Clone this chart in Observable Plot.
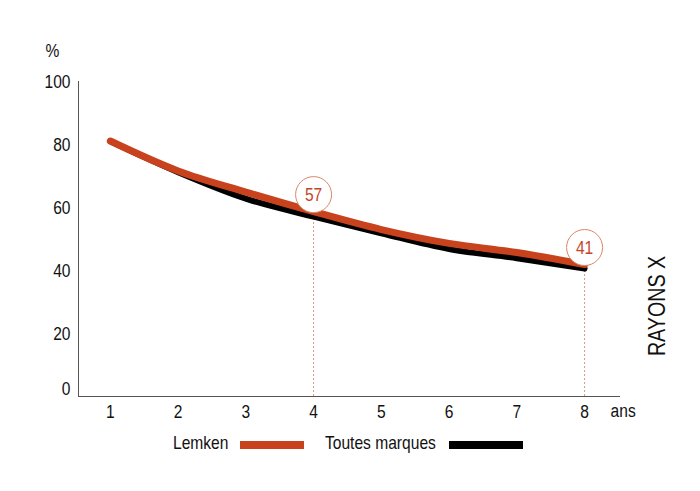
<!DOCTYPE html>
<html>
<head>
<meta charset="utf-8">
<script src="https://cdn.jsdelivr.net/npm/d3@7"></script>
<script src="https://cdn.jsdelivr.net/npm/@observablehq/plot@0.6"></script>
<style>
  html, body { margin: 0; padding: 0; background: #fff; }
  #wrap { position: relative; width: 700px; height: 491px; font-family: "Liberation Sans", Arial, sans-serif; }
  #chart { position: absolute; left: 0; top: 0; }
  .lg { position: absolute; font-size: 19px; line-height: 19px; color: #111; white-space: nowrap; transform: scaleX(0.82); transform-origin: 0 0; }
  .sw { position: absolute; height: 8px; }
  #side { position: absolute; left: 656.5px; top: 306px; transform: translate(-50%, -50%) rotate(-90deg) scaleX(0.82); font-size: 24px; line-height: 24px; color: #111; white-space: nowrap; }
</style>
</head>
<body>
<div id="wrap">
  <div id="chart"></div>
  <div id="side">RAYONS X</div>
</div>
<script>
const years = [1, 2, 3, 4, 5, 6, 7, 8];
const lemken = [81.1, 71.6, 64.9, 58.7, 53.0, 48.6, 45.7, 41.9];
const toutes = [81.0, 71.2, 62.8, 57.1, 51.8, 46.8, 43.9, 40.6];
const yTicks = [20, 40, 60, 80, 100];
const xTicks = [1, 2, 3, 4, 5, 6, 7, 8];
const highlightYears = [4, 8];
const highlightLabels = ["57", "41"];
const seriesNames = ["Lemken", "Toutes marques"];
const colors = ["#c8421e", "#000000"];

const redData = years.map((x, i) => ({x, y: lemken[i]}));
const blackData = years.map((x, i) => ({x, y: toutes[i]}));
const hl = highlightYears.map((x, i) => ({x, y: lemken[years.indexOf(x)], label: highlightLabels[i]}));

const X0 = 0.53, X1 = 8.53;

const plot = Plot.plot({
  width: 700,
  height: 430,
  marginLeft: 78,
  marginRight: 80,
  marginTop: 81,
  marginBottom: 34,
  x: {domain: [X0, X1], axis: null},
  y: {domain: [0, 100], axis: null},
  style: {fontFamily: '"Liberation Sans", Arial, sans-serif', background: "#fff", overflow: "visible"},
  marks: [
    Plot.ruleY([0], {x1: X0, x2: X1, stroke: "#555", strokeWidth: 1}),
    Plot.ruleX([X0], {y1: 0, y2: 100, stroke: "#555", strokeWidth: 1}),
    Plot.text(yTicks, {x: X0, y: d => d, text: d => String(d), textAnchor: "end", dx: -8, fontSize: 19, fill: "#111"}),
    Plot.text([0], {x: X0, y: d => d, text: d => String(d), textAnchor: "end", dx: -8, dy: -8, fontSize: 19, fill: "#111"}),
    Plot.text(xTicks, {x: d => d, y: 0, text: d => String(d), dy: 15, fontSize: 19, fill: "#111"}),
    Plot.text(["ans"], {x: 8, y: 0, text: d => d, textAnchor: "start", dx: 26, dy: 14, fontSize: 19, fill: "#111"}),
    Plot.text(["%"], {x: X0, y: 100, text: d => d, dx: -26, dy: -31, fontSize: 19, fill: "#111"}),
    Plot.ruleX(hl, {x: "x", y1: 0, y2: "y", stroke: "#e0967a", strokeWidth: 1, strokeDasharray: "2,2"}),
    Plot.line(blackData, {x: "x", y: "y", stroke: colors[1], strokeWidth: 6, curve: "monotone-x"}),
    Plot.line(redData, {x: "x", y: "y", stroke: colors[0], strokeWidth: 7, curve: "monotone-x"}),
    Plot.dot(hl, {x: "x", y: "y", r: 18, dy: -17, fill: "#fff", stroke: "#d8876a", strokeWidth: 1}),
    Plot.text(hl, {x: "x", y: "y", text: "label", dy: -17, fontSize: 19, fill: "#c4462a"})
  ]
});
document.getElementById("chart").appendChild(plot);

// condense text glyphs horizontally (narrow face look)
plot.querySelectorAll("text").forEach(t => {
  const tr = t.getAttribute("transform");
  if (tr) {
    t.setAttribute("transform", tr + " scale(0.82,1)");
  } else {
    const x = +(t.getAttribute("x") || 0), y = +(t.getAttribute("y") || 0);
    t.setAttribute("transform", `translate(${x},${y}) scale(0.82,1) translate(${-x},${-y})`);
  }
});

const wrap = document.getElementById("wrap");
const legendItems = [
  {text: seriesNames[0], tx: 173, sx: 240, sw: 64, color: colors[0]},
  {text: seriesNames[1], tx: 325, sx: 449, sw: 74, color: colors[1]}
];
legendItems.forEach(it => {
  const t = document.createElement("div");
  t.className = "lg";
  t.style.left = it.tx + "px";
  t.style.top = "433px";
  t.textContent = it.text;
  wrap.appendChild(t);
  const s = document.createElement("div");
  s.className = "sw";
  s.style.left = it.sx + "px";
  s.style.top = "441px";
  s.style.width = it.sw + "px";
  s.style.background = it.color;
  wrap.appendChild(s);
});
</script>
</body>
</html>
